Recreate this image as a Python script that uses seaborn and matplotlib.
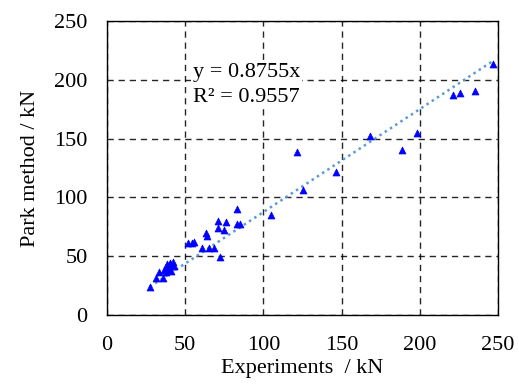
import matplotlib
matplotlib.use("Agg")
import matplotlib.pyplot as plt
import seaborn as sns
import numpy as np
import pandas as pd

experiments = [27.4, 31.3, 35.5, 33.4, 37.7,
               36.6, 37.5, 38.5, 39.5, 40.5, 41.5, 42.5, 43.0, 38.0, 41.0, 40.0,
               51.5, 54.3, 55.8, 61.0, 64.9, 68.5, 72.2,
               63.2, 63.9, 70.7, 75.0, 70.7, 76.0, 83.4, 85.0, 83.4,
               104.8, 125.4, 121.8, 146.7, 168.3, 188.7, 198.5,
               221.4, 225.8, 235.4, 246.5]
park = [24.1, 31.2, 31.2, 36.8, 36.8,
        38.0, 41.0, 43.5, 40.0, 44.5, 42.0, 45.0, 41.5, 38.5, 37.5, 43.0,
        61.5, 61.0, 62.4, 56.7, 56.7, 57.3, 49.6,
        69.5, 67.2, 74.2, 72.3, 80.2, 79.3, 77.4, 77.4, 89.9,
        85.0, 106.3, 138.9, 121.3, 152.2, 140.3, 154.5,
        187.1, 188.5, 190.7, 213.4]
slope = 0.8755
r2 = 0.9557
ticks = [0, 50, 100, 150, 200, 250]

df = pd.DataFrame({"Experiments": experiments, "Park": park})

sns.set_theme(style="white")
plt.rcParams['font.family'] = ['Liberation Serif', 'DejaVu Serif']

fig = plt.figure(figsize=(5.19, 3.85), dpi=100)
ax = fig.add_axes([107/519, 70/385, 391/519, 294/385])

# trendline through origin
xs = np.array([min(experiments), max(experiments)])
tl = pd.DataFrame({"x": xs, "y": slope * xs})
sns.lineplot(data=tl, x="x", y="y", ax=ax, color="#5B9BD5", linestyle=(0, (1, 1.5)),
             linewidth=1.8, zorder=2)

sns.scatterplot(data=df, x="Experiments", y="Park", ax=ax, marker="^", color="#0000FF",
                edgecolor="#0000FF", s=25, linewidth=0.5, zorder=3)

ax.set_xlim(0, 250)
ax.set_ylim(0, 250)
ax.set_xticks(ticks)
ax.set_yticks(ticks)
ax.set_xticklabels([str(t) for t in ticks])
ax.set_yticklabels([str(t) for t in ticks])
ax.grid(True, color="black", linestyle=(0, (4.5, 3.5)), linewidth=1.0, alpha=0.85)
ax.set_axisbelow(True)
for s in ax.spines.values():
    s.set_color("black")
    s.set_linewidth(1.0)
ax.tick_params(axis="both", length=0, labelsize=16, colors="black")
ax.tick_params(axis="x", pad=15)
ax.tick_params(axis="y", pad=14)

ax.set_xlabel("Experiments  / kN", fontsize=16, color="black", labelpad=3)
ax.set_ylabel("Park method / kN", fontsize=16, color="black", labelpad=10)

ax.text(0.22, 0.782, f"y = {slope}x\nR² = {r2}", transform=ax.transAxes, fontsize=16,
        color="black", va="center", ha="left", linespacing=1.4, zorder=4,
        bbox=dict(facecolor="white", edgecolor="none", pad=1.5))

fig.savefig("out.png", dpi=100)
